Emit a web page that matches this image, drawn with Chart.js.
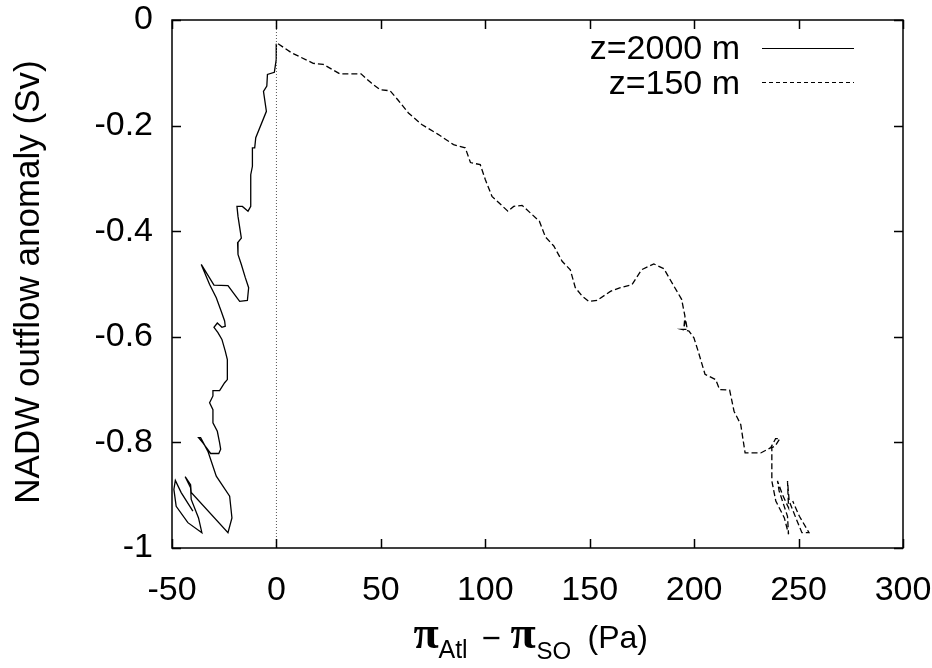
<!DOCTYPE html>
<html>
<head>
<meta charset="utf-8">
<script src="https://cdn.jsdelivr.net/npm/chart.js@4/dist/chart.umd.min.js"></script>
<style>
  html, body { margin: 0; padding: 0; background: #fff; }
  #wrap { width: 932px; height: 668px; }
</style>
</head>
<body>
<div id="wrap"><canvas id="chart" width="932" height="668"></canvas></div>
<script>
// axis ticks
const xTicks = [-50, 0, 50, 100, 150, 200, 250, 300]
const xTickLabels = ["-50", "0", "50", "100", "150", "200", "250", "300"]
const yTicks = [0, -0.2, -0.4, -0.6, -0.8, -1]
const yTickLabels = ["0", "-0.2", "-0.4", "-0.6", "-0.8", "-1"]

// z=2000 m trajectory (Pa, Sv)
const deepX = [0, -0.1, -1.0, -4.3, -4.6, -6.2, -4.8, -9.9, -10.4, -11.5,
  -11.5, -12.3, -12.3, -13.6, -16.3, -18.9, -18.4, -16.8, -18.6, -18.4,
  -16.8, -14.9, -13.3, -13.9, -17.6, -20.0, -23.2, -29.9, -36.0, -32.0,
  -28.8, -26.4, -24.8, -24.5, -26.1, -28.3, -29.9, -28.0, -26.1, -24.5,
  -23.5, -23.5, -24.8, -27.2, -30.4, -30.4, -32.0, -30.4, -30.4, -28.3,
  -27.2, -26.7, -27.6, -31.5, -35.2, -37.3, -36.3, -32.8, -28.8, -22.4,
  -21.3, -23.2, -40.8, -41.1, -43.7, -41.1, -40.8, -37.3, -35.7, -42.4,
  -48.0, -49.1, -48.4, -45.6, -40.0]
const deepY = [-0.045, -0.075, -0.099, -0.103, -0.125, -0.135, -0.173, -0.223, -0.242, -0.242,
  -0.277, -0.293, -0.353, -0.362, -0.353, -0.353, -0.372, -0.413, -0.422, -0.444,
  -0.463, -0.488, -0.507, -0.531, -0.533, -0.520, -0.503, -0.502, -0.463, -0.501,
  -0.526, -0.552, -0.570, -0.580, -0.582, -0.574, -0.582, -0.592, -0.605, -0.627,
  -0.643, -0.681, -0.687, -0.702, -0.702, -0.712, -0.725, -0.738, -0.763, -0.779,
  -0.801, -0.813, -0.821, -0.821, -0.801, -0.791, -0.791, -0.817, -0.864, -0.902,
  -0.943, -0.971, -0.895, -0.880, -0.865, -0.886, -0.908, -0.943, -0.971, -0.952,
  -0.921, -0.889, -0.872, -0.895, -0.930]

// z=150 m trajectory
const shallowX = [0.8, 7.2, 17.6, 22.4, 30.4, 40.5, 45.6, 49.6, 54.4, 58.1,
  63.2, 69.6, 77.6, 84.8, 90.4, 92.9, 97.6, 100.0, 103.2, 110.8,
  113.6, 117.6, 125.9, 128.8, 132.8, 136.8, 140.7, 143.1, 146.4, 149.6,
  153.5, 159.9, 164.7, 170.3, 174.8, 180.7, 185.5, 190.3, 194.0, 195.6,
  195.1, 195.9, 196.7, 194.3, 197.5, 199.9, 201.9, 205.2, 210.3, 212.2,
  217.0, 219.1, 222.3, 224.4, 231.9, 236.7, 239.0, 241.0, 238.8, 237.2,
  237.2, 239.1, 243.2, 245.2, 244.7, 240.7, 239.9, 242.3, 245.2, 244.7,
  245.5, 248.7, 251.6, 255.0, 250.4, 247.2]
const shallowY = [-0.045, -0.062, -0.082, -0.084, -0.102, -0.102, -0.120, -0.132, -0.134, -0.151,
  -0.176, -0.198, -0.217, -0.236, -0.242, -0.270, -0.274, -0.302, -0.334, -0.362,
  -0.353, -0.351, -0.381, -0.411, -0.428, -0.457, -0.473, -0.507, -0.523, -0.533,
  -0.531, -0.514, -0.507, -0.501, -0.473, -0.462, -0.471, -0.504, -0.529, -0.561,
  -0.583, -0.567, -0.586, -0.586, -0.589, -0.602, -0.627, -0.671, -0.681, -0.700,
  -0.701, -0.741, -0.766, -0.820, -0.820, -0.810, -0.793, -0.793, -0.807, -0.810,
  -0.873, -0.911, -0.943, -0.974, -0.940, -0.892, -0.873, -0.899, -0.924, -0.873,
  -0.911, -0.943, -0.971, -0.971, -0.940, -0.911]

// dotted reference line at zero pressure difference
const zeroX = [0, 0]
const zeroY = [0, -1]

const seriesLabels = ["z=2000 m", "z=150 m"]

const SANS = "'Liberation Sans', Arial, Helvetica, sans-serif"
const SERIF = "'Liberation Serif', 'DejaVu Serif', serif"

const toPoints = (xs, ys) => xs.map((x, i) => ({ x, y: ys[i] }))

// no automatic room for overhanging tick labels, the layout padding sets the plot box
const noLabelPadding = (s) => {
  s.paddingTop = 0
  s.paddingBottom = 0
  s.paddingLeft = 0
  s.paddingRight = 0
}

// gnuplot-like frame with inward ticks on all four sides
const framePlugin = {
  id: "frame",
  afterDatasetsDraw(chart) {
    const { ctx, chartArea: a, scales } = chart
    const tl = 9
    ctx.save()
    ctx.strokeStyle = "#000"
    ctx.lineWidth = 1.5
    ctx.strokeRect(a.left, a.top, a.right - a.left, a.bottom - a.top)
    ctx.beginPath()
    xTicks.forEach((v) => {
      const px = Math.round(scales.x.getPixelForValue(v)) + 0.5
      ctx.moveTo(px, a.bottom); ctx.lineTo(px, a.bottom - tl)
      ctx.moveTo(px, a.top); ctx.lineTo(px, a.top + tl)
    })
    yTicks.forEach((v) => {
      const py = Math.round(scales.y.getPixelForValue(v)) + 0.5
      ctx.moveTo(a.left, py); ctx.lineTo(a.left + tl, py)
      ctx.moveTo(a.right, py); ctx.lineTo(a.right - tl, py)
    })
    ctx.stroke()
    ctx.restore()
  },
  afterDraw(chart) {
    const { ctx, chartArea: a } = chart
    ctx.save()
    ctx.fillStyle = "#000"

    // y title
    ctx.font = "35px " + SANS
    ctx.textAlign = "center"
    ctx.textBaseline = "middle"
    ctx.translate(29, (a.top + a.bottom) / 2 - 2)
    ctx.rotate(-Math.PI / 2)
    ctx.fillText("NADW outflow anomaly (Sv)", 0, 0)
    ctx.setTransform(1, 0, 0, 1, 0, 0)

    // x title: pi_Atl - pi_SO (Pa)
    const cx = (a.left + a.right) / 2
    ctx.textAlign = "left"
    ctx.textBaseline = "alphabetic"
    const parts = [
      { t: "π", f: "bold 46px " + SERIF, dx: -124, y: 648 },
      { t: "Atl", f: "25px " + SANS, dx: -99, y: 658 },
      { t: "\u2212", f: "33px " + SANS, dx: -56, y: 649 },
      { t: "π", f: "bold 46px " + SERIF, dx: -27, y: 648 },
      { t: "SO", f: "24px " + SANS, dx: -1, y: 659 },
      { t: "(Pa)", f: "32px " + SANS, dx: 50, y: 648 }
    ]
    parts.forEach((p) => {
      ctx.font = p.f
      ctx.fillText(p.t, cx + p.dx, p.y)
    })

    // legend
    ctx.font = "34px " + SANS
    ctx.textAlign = "right"
    ctx.fillText(seriesLabels[0], 740, 59)
    ctx.fillText(seriesLabels[1], 740, 94)
    ctx.lineWidth = 1.2
    ctx.beginPath()
    ctx.moveTo(762, 48.5); ctx.lineTo(854, 48.5)
    ctx.stroke()
    ctx.setLineDash([4, 3])
    ctx.beginPath()
    ctx.moveTo(762, 82.5); ctx.lineTo(854, 82.5)
    ctx.stroke()
    ctx.restore()
  }
}

new Chart(document.getElementById("chart").getContext("2d"), {
  type: "scatter",
  data: {
    datasets: [
      {
        label: "zero",
        data: toPoints(zeroX, zeroY),
        showLine: true,
        borderColor: "#555",
        borderWidth: 1,
        borderDash: [1, 2],
        pointRadius: 0
      },
      {
        label: seriesLabels[0],
        data: toPoints(deepX, deepY),
        showLine: true,
        borderColor: "#000",
        borderWidth: 1.3,
        pointRadius: 0,
        tension: 0
      },
      {
        label: seriesLabels[1],
        data: toPoints(shallowX, shallowY),
        showLine: true,
        borderColor: "#000",
        borderWidth: 1.3,
        borderDash: [6, 3],
        pointRadius: 0,
        tension: 0
      }
    ]
  },
  options: {
    responsive: false,
    animation: false,
    layout: { padding: { top: 20, right: 29, left: 0, bottom: 0 } },
    plugins: { legend: { display: false }, tooltip: { enabled: false } },
    scales: {
      x: {
        type: "linear",
        min: -50,
        max: 300,
        grid: { display: false, drawTicks: false },
        border: { display: false },
        afterBuildTicks: (s) => { s.ticks = xTicks.map((v) => ({ value: v })) },
        afterFit: (s) => { s.height = 120; noLabelPadding(s) },
        ticks: {
          color: "#000",
          font: { family: SANS, size: 34 },
          padding: 22,
          maxRotation: 0,
          autoSkip: false,
          callback: (v) => xTickLabels[xTicks.indexOf(v)]
        }
      },
      y: {
        type: "linear",
        min: -1,
        max: 0,
        grid: { display: false, drawTicks: false },
        border: { display: false },
        afterBuildTicks: (s) => { s.ticks = yTicks.map((v) => ({ value: v })) },
        afterFit: (s) => { s.width = 172; noLabelPadding(s) },
        ticks: {
          color: "#000",
          font: { family: SANS, size: 34 },
          padding: 19,
          autoSkip: false,
          callback: (v) => yTickLabels[yTicks.indexOf(v)]
        }
      }
    }
  },
  plugins: [framePlugin]
})
</script>
</body>
</html>
